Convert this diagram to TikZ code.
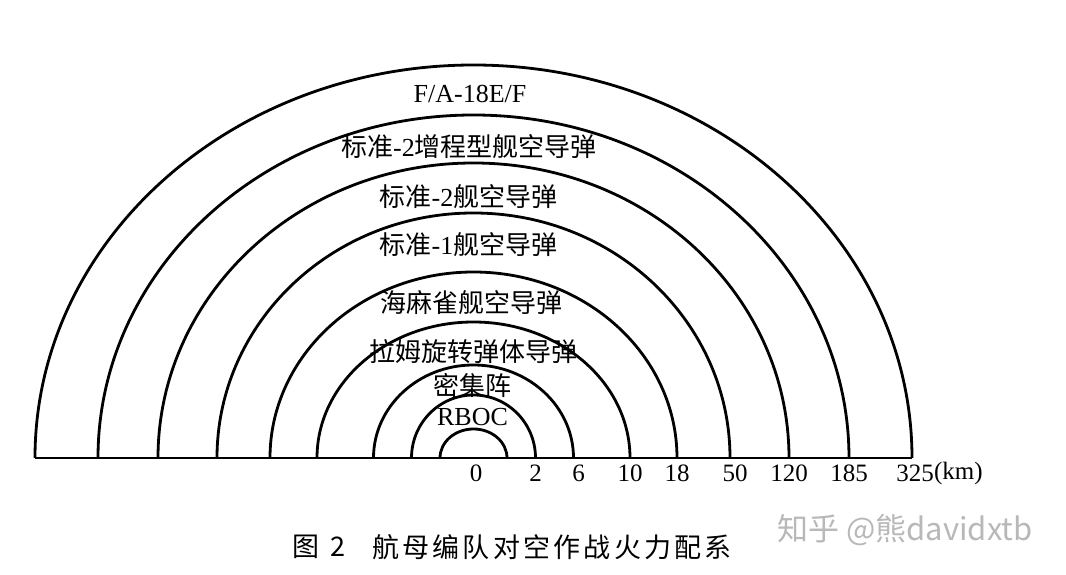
\documentclass[tikz,border=0pt]{standalone}
\usepackage{fontspec}
\setmainfont{Liberation Serif}
\newfontfamily\cjkfont{Noto Sans CJK SC}
\newfontfamily\cjkcap[LetterSpace=12]{Noto Sans CJK SC}
\usetikzlibrary{positioning}
\newcommand{\zh}[1]{{\cjkfont #1}}

\begin{document}
\begin{tikzpicture}[x=1pt,y=1pt,
  ring/.style={black,line width=2.8pt},
  zone/.style={font=\fontsize{26}{30}\selectfont,text=black,inner sep=0pt,anchor=center},
  kmlabel/.style={font=\fontsize{25}{28}\selectfont,text=black,inner sep=0pt}]
\useasboundingbox (0,0) rectangle (1066,575);

% centre and ends of the rings
\coordinate (O) at (473.5,117);
\coordinate (e0) at (507,117);
\coordinate (e2) at (535.5,117);
\coordinate (e6) at (573.5,117);
\coordinate (e10) at (630,117);
\coordinate (e18) at (677,117);
\coordinate (e50) at (730,117);
\coordinate (e120) at (789,117);
\coordinate (e185) at (849,117);
\coordinate (e325) at (912,117);
\coordinate (w325) at (35,117);

\draw[ring] (w325) -- (e325);
\draw[ring] (e0) arc[start angle=0,end angle=180,x radius=33.5,y radius=29];
\draw[ring] (e2) arc[start angle=0,end angle=180,x radius=62,y radius=63];
\draw[ring] (e6) arc[start angle=0,end angle=180,x radius=100,y radius=93];
\draw[ring] (e10) arc[start angle=0,end angle=180,x radius=156.5,y radius=136];
\draw[ring] (e18) arc[start angle=0,end angle=180,x radius=203.5,y radius=186];
\draw[ring] (e50) arc[start angle=0,end angle=180,x radius=256.5,y radius=245];
\draw[ring] (e120) arc[start angle=0,end angle=180,x radius=315.5,y radius=295];
\draw[ring] (e185) arc[start angle=0,end angle=180,x radius=375.5,y radius=343];
\draw[ring] (e325) arc[start angle=0,end angle=180,x radius=438.5,y radius=393];

% weapon names
\node[zone] (fa18) at (470,481) {F/A-18E/F};
\node[zone] (sm2er) at (469,428) {\zh{标准}-2\zh{增程型舰空导弹}};
\node[zone] (sm2) at (468.5,378) {\zh{标准}-2\zh{舰空导弹}};
\node[zone] (sm1) at (468.5,330) {\zh{标准}-1\zh{舰空导弹}};
\node[zone] (seasparrow) at (471,272) {\zh{海麻雀舰空导弹}};
\node[zone] (ram) at (473.5,223) {\zh{拉姆旋转弹体导弹}};
\node[zone] (ciws) at (472.5,190) {\zh{密集阵}};
\node[zone] (rboc) at (472.5,158) {RBOC};

% ranges
\node[kmlabel,below=7pt of O,xshift=2.5pt] (n0) {0};
\node[kmlabel,below=7pt of e2] (n2) {2};
\node[kmlabel,below=7pt of e6,xshift=5pt] (n6) {6};
\node[kmlabel,below=7pt of e10] (n10) {10};
\node[kmlabel,below=7pt of e18] (n18) {18};
\node[kmlabel,below=7pt of e50,xshift=5pt] (n50) {50};
\node[kmlabel,below=7pt of e120] (n120) {120};
\node[kmlabel,below=7pt of e185] (n185) {185};
\node[kmlabel,below=7pt of e325,xshift=3pt] (n325) {325};
\node[kmlabel,right=0pt of n325] (km) {(km)};

% caption and mark
\node[font=\fontsize{27}{30}\selectfont\cjkfont,inner sep=0pt] (capno) at (319,28) {图\hspace{12pt}2};
\node[font=\fontsize{27}{30}\selectfont\cjkcap,inner sep=0pt,anchor=west] (captxt) at (372,28) {航母编队对空作战火力配系};
\node[font=\fontsize{31}{34}\selectfont\cjkfont,text=black!28,inner sep=0pt,anchor=west] (mark) at (777,45) {知乎 @熊davidxtb};
\end{tikzpicture}
\end{document}
